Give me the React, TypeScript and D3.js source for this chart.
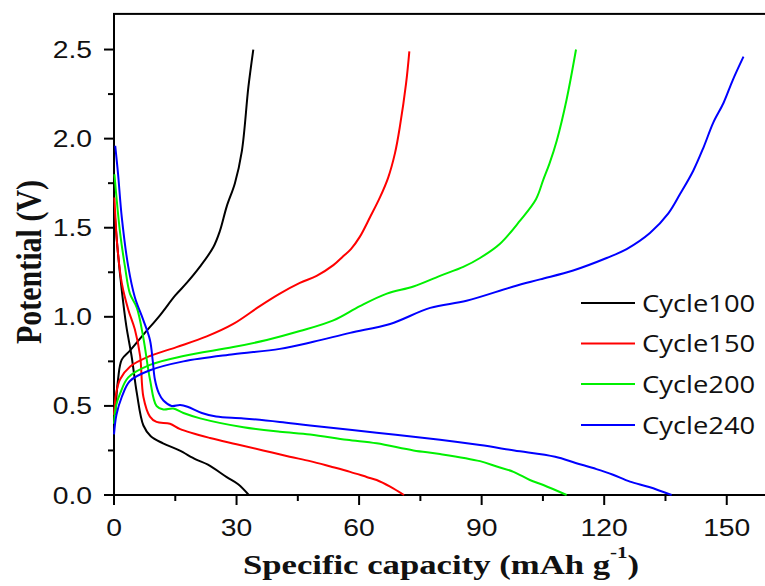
import React, { useEffect, useRef } from "react";
import * as d3 from "d3";

// [capacity mAh/g, potential V]
const cycle100Discharge = [[0.1, 1.6], [1, 1.35], [1.9, 1.15], [3, 0.95], [4.3, 0.78], [5.6, 0.57], [7.2, 0.39], [9, 0.33], [12, 0.29], [16, 0.25], [20, 0.2], [23, 0.17], [27.6, 0.1], [30.4, 0.06], [33, 0.0]];
const cycle100Charge = [[0.3, 0.45], [1, 0.65], [1.9, 0.76], [3.9, 0.81], [7.2, 0.9], [11.3, 1.01], [15, 1.12], [17.8, 1.19], [21, 1.28], [24.3, 1.39], [25.9, 1.48], [27.6, 1.62], [29.6, 1.75], [31.3, 1.93], [32.9, 2.29], [34.1, 2.5]];
const cycle150Discharge = [[0.1, 1.67], [0.8, 1.4], [1.9, 1.19], [3.5, 1.04], [5.1, 0.93], [6.4, 0.78], [7.2, 0.55], [8.8, 0.44], [10.4, 0.41], [13.7, 0.4], [16.2, 0.37], [23.5, 0.32], [30, 0.285], [36.5, 0.25], [43, 0.215], [48, 0.19], [53, 0.16], [57.8, 0.13], [62, 0.1], [64.3, 0.084], [67.6, 0.047], [71, 0.0]];
const cycle150Charge = [[0, 0.45], [0.6, 0.58], [1.5, 0.65], [3.9, 0.72], [8.8, 0.78], [15.3, 0.83], [22.7, 0.89], [29.2, 0.96], [35.7, 1.06], [40.6, 1.13], [45.5, 1.19], [49.6, 1.23], [53.7, 1.29], [56.1, 1.34], [58, 1.38], [60.2, 1.45], [62.7, 1.56], [65.1, 1.67], [67.1, 1.78], [68.8, 1.92], [70, 2.07], [71.5, 2.31], [72.3, 2.49]];
const cycle200Discharge = [[0.1, 1.8], [1.5, 1.47], [2.7, 1.28], [3.9, 1.13], [5.6, 1.05], [7.2, 0.88], [8.8, 0.65], [10.4, 0.5], [12.1, 0.48], [14.5, 0.485], [17, 0.46], [21.1, 0.43], [31.7, 0.38], [40.6, 0.355], [48, 0.34], [57, 0.31], [64.3, 0.29], [73.3, 0.25], [79.8, 0.23], [89.6, 0.19], [93.7, 0.16], [97.8, 0.13], [101.8, 0.084], [105.1, 0.056], [110.8, 0.0]];
const cycle200Charge = [[0, 0.4], [0.5, 0.5], [1.5, 0.57], [3.5, 0.66], [8.8, 0.73], [17, 0.78], [29.2, 0.83], [37.4, 0.87], [45.5, 0.92], [53.7, 0.98], [60.2, 1.06], [66.8, 1.13], [73.3, 1.17], [79.8, 1.23], [85.5, 1.28], [89.6, 1.33], [94.5, 1.41], [99.4, 1.54], [103.3, 1.66], [105.1, 1.77], [106.6, 1.86], [108.4, 1.99], [110.8, 2.22], [113.1, 2.5]];
const cycle240Discharge = [[0.3, 1.96], [1, 1.8], [1.9, 1.56], [3.5, 1.28], [5.1, 1.11], [7.2, 0.98], [8.8, 0.87], [9.5, 0.75], [10, 0.65], [11, 0.57], [12.1, 0.53], [14.1, 0.5], [16.2, 0.505], [18, 0.495], [21.5, 0.46], [25, 0.44], [31.7, 0.43], [40.6, 0.41], [48, 0.39], [64.3, 0.35], [79.8, 0.31], [89.6, 0.28], [98, 0.25], [108, 0.215], [113, 0.18], [118.1, 0.145], [122, 0.115], [126.3, 0.075], [131, 0.045], [136.5, 0.0]];
const cycle240Charge = [[0, 0.34], [0.6, 0.45], [1.9, 0.55], [3.9, 0.64], [8.8, 0.7], [17, 0.75], [29.2, 0.79], [40.6, 0.82], [48.8, 0.86], [57.8, 0.91], [67.6, 0.96], [77.4, 1.05], [86.3, 1.09], [97.8, 1.17], [104.3, 1.21], [112.4, 1.26], [120.6, 1.33], [125.5, 1.38], [131.2, 1.47], [135.7, 1.58], [138.6, 1.69], [141.8, 1.82], [144.3, 1.95], [146.7, 2.09], [149.2, 2.2], [151.5, 2.33], [154.1, 2.46]];

const cycleLabels = ["Cycle100", "Cycle150", "Cycle200", "Cycle240"];
const cycleColors = ["#000000", "#ff0000", "#00f000", "#0000ff"];
const cycleCurves = [
  [cycle100Discharge, cycle100Charge],
  [cycle150Discharge, cycle150Charge],
  [cycle200Discharge, cycle200Charge],
  [cycle240Discharge, cycle240Charge],
];

const xTicks = [0, 30, 60, 90, 120, 150];
const xMinorTicks = [15, 45, 75, 105, 135];
const yTicks = [0, 0.5, 1.0, 1.5, 2.0, 2.5];
const yMinorTicks = [0.25, 0.75, 1.25, 1.75, 2.25];

export default function App() {
  const chartRef = useRef<SVGSVGElement>(null);

  useEffect(() => {
    const svg = d3.select(chartRef.current);
    svg.selectAll("*").remove();

    const width = 765;
    const height = 586;
    svg.attr("width", width).attr("height", height);

    const x = d3.scaleLinear().domain([0, 160]).range([114, 767.6]);
    const y = d3.scaleLinear().domain([0, 2.7]).range([495, 13.9]);
    const sx = 1.18; // text in the source is stretched horizontally

    // frame
    svg.append("rect")
      .attr("x", x(0)).attr("y", y(2.7))
      .attr("width", x(160) - x(0)).attr("height", y(0) - y(2.7))
      .attr("fill", "none").attr("stroke", "#000").attr("stroke-width", 2);

    // curves
    const line = d3.line<number[]>()
      .x(d => x(d[0]))
      .y(d => y(d[1]))
      .curve(d3.curveCatmullRom.alpha(0.5));

    cycleCurves.forEach((curves, i) => {
      curves.forEach(c => {
        svg.append("path")
          .attr("d", line(c))
          .attr("fill", "none")
          .attr("stroke", cycleColors[i])
          .attr("stroke-width", 2);
      });
    });

    // ticks
    const ticks = svg.append("g").attr("stroke", "#000").attr("stroke-width", 2);
    xTicks.forEach(t => ticks.append("line").attr("x1", x(t)).attr("x2", x(t)).attr("y1", y(0)).attr("y2", y(0) + 10));
    xMinorTicks.forEach(t => ticks.append("line").attr("x1", x(t)).attr("x2", x(t)).attr("y1", y(0)).attr("y2", y(0) + 6));
    yTicks.forEach(t => ticks.append("line").attr("x1", x(0) - 10).attr("x2", x(0)).attr("y1", y(t)).attr("y2", y(t)));
    yMinorTicks.forEach(t => ticks.append("line").attr("x1", x(0) - 6).attr("x2", x(0)).attr("y1", y(t)).attr("y2", y(t)));

    const labelFont = "'Liberation Sans', Arial, sans-serif";
    xTicks.forEach(t => {
      svg.append("text")
        .attr("transform", `translate(${x(t)},536) scale(${sx},1)`)
        .attr("text-anchor", "middle")
        .attr("font-family", labelFont)
        .attr("font-size", 24)
        .attr("fill", "#111")
        .text(String(t));
    });
    yTicks.forEach(t => {
      svg.append("text")
        .attr("transform", `translate(92,${y(t) + 8.5}) scale(${sx},1)`)
        .attr("text-anchor", "end")
        .attr("font-family", labelFont)
        .attr("font-size", 24)
        .attr("fill", "#111")
        .text(d3.format(".1f")(t));
    });

    // axis titles
    const titleFont = "'Liberation Serif', 'Times New Roman', serif";
    const xTitle = svg.append("text")
      .attr("transform", `translate(441,574) scale(1.24,1)`)
      .attr("text-anchor", "middle")
      .attr("font-family", titleFont)
      .attr("font-weight", "bold")
      .attr("font-size", 28)
      .attr("fill", "#111");
    xTitle.append("tspan").text("Specific capacity (mAh g");
    xTitle.append("tspan").attr("font-size", 17).attr("dy", -16).text("-1");
    xTitle.append("tspan").attr("dy", 16).text(")");

    svg.append("text")
      .attr("transform", `translate(41,262) rotate(-90) scale(1,1.2)`)
      .attr("text-anchor", "middle")
      .attr("font-family", titleFont)
      .attr("font-weight", "bold")
      .attr("font-size", 30)
      .attr("fill", "#111")
      .text("Potential (V)");

    // legend
    const legendY = [303, 343.5, 384, 425];
    cycleLabels.forEach((label, i) => {
      svg.append("line")
        .attr("x1", 581).attr("x2", 635)
        .attr("y1", legendY[i]).attr("y2", legendY[i])
        .attr("stroke", cycleColors[i]).attr("stroke-width", 2);
      svg.append("text")
        .attr("transform", `translate(642,${legendY[i] + 8.5}) scale(1.14,1)`)
        .attr("font-family", "'Open Sans', sans-serif")
        .attr("font-size", 24)
        .attr("fill", "#111")
        .text(label);
    });
  }, []);

  return <svg ref={chartRef} style={{ position: "absolute", left: 0, top: 0 }}></svg>;
}
